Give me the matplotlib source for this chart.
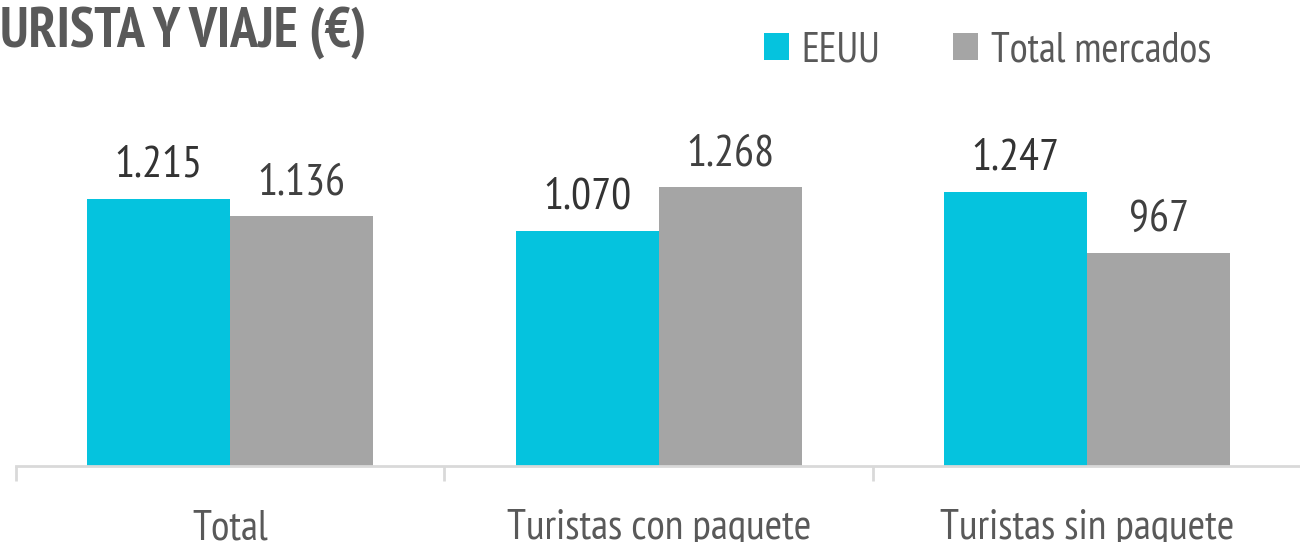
import numpy as np
import matplotlib.pyplot as plt

# datos del gráfico
categorias = ['Total', 'Turistas con paquete', 'Turistas sin paquete']
eeuu = [1215, 1070, 1247]
total_mercados = [1136, 1268, 967]
etiquetas_eeuu = ['1.215', '1.070', '1.247']
etiquetas_total = ['1.136', '1.268', '967']

plt.rcParams['font.family'] = ['PT Sans Narrow', 'DejaVu Sans']

W, H = 1300, 542
fig = plt.figure(figsize=(W / 100, H / 100), dpi=100)
# ejes en pixeles: x de 16 a 1301.5, base en y=466 (desde arriba)
ax = fig.add_axes([16 / W, (H - 466) / H, 1285.5 / W, 436 / H])

cian = '#05C3DE'
gris = '#A5A5A5'
x = np.arange(len(categorias))
ancho = 1 / 3

b1 = ax.bar(x - ancho / 2, eeuu, ancho, color=cian, label='EEUU')
b2 = ax.bar(x + ancho / 2, total_mercados, ancho, color=gris, label='Total mercados')

for barras, textos, col in [(b1, etiquetas_eeuu, '#333333'), (b2, etiquetas_total, '#404040')]:
    for rect, txt in zip(barras, textos):
        ax.annotate(txt, (rect.get_x() + rect.get_width() / 2, rect.get_height()),
                    xytext=(0, 16), textcoords='offset points', ha='center', va='baseline',
                    fontsize=32, color=col, clip_on=False)

ax.set_xlim(-0.5, 2.5)
ax.set_ylim(0, 436 / 0.2198)

for s in ['top', 'right', 'left']:
    ax.spines[s].set_visible(False)
ax.spines['bottom'].set_color('#D9D9D9')
ax.spines['bottom'].set_linewidth(2)
ax.set_yticks([])

# marcas entre categorías
ax.set_xticks([-0.5, 0.5, 1.5, 2.5])
ax.set_xticklabels([])
ax.tick_params(axis='x', length=11, width=2, color='#D9D9D9')
ax.set_xticks(x, minor=True)
ax.set_xticklabels(categorias, minor=True, fontsize=30.5, color='#595959')
ax.tick_params(axis='x', which='minor', length=0, pad=31)

fig.text(0, 1 - 47 / H, 'URISTA Y VIAJE (€)', fontsize=40, fontweight='bold',
         color='#595959', ha='left', va='baseline')

fig.legend(loc='upper left', bbox_to_anchor=(764 / W, 1 - 31 / H), ncol=2,
           frameon=False, fontsize=30, labelcolor='#595959',
           handlelength=0.6, handleheight=0.6, handletextpad=0.3,
           columnspacing=1.75, borderaxespad=0, borderpad=0)

fig.savefig('out.png', dpi=100)
